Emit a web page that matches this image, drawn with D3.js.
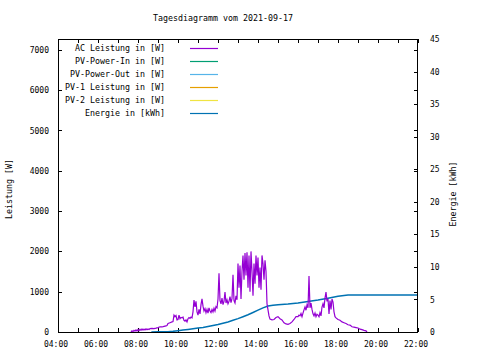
<!DOCTYPE html>
<html><head><meta charset="utf-8">
<script src="https://cdn.jsdelivr.net/npm/d3@7"></script>
<style>
html,body{margin:0;padding:0;background:#fff;}
svg{display:block;}
text{font-family:"DejaVu Sans Mono",monospace;fill:#000;}
</style></head>
<body><svg id="chart" width="480" height="360"></svg>
<script>
const title = "Tagesdiagramm vom 2021-09-17";
const seriesNames = ["AC Leistung in [W]","PV-Power-In in [W]","PV-Power-Out in [W]","PV-1 Leistung in [W]","PV-2 Leistung in [W]","Energie in [kWh]"];
const seriesColors = ["#9400d3","#009e73","#56b4e9","#e69f00","#f0e442","#0072b2"];
const xTickHours = [4,5,6,7,8,9,10,11,12,13,14,15,16,17,18,19,20,21,22];
const yTicks = [0,1000,2000,3000,4000,5000,6000,7000];
const y2Ticks = [0,5,10,15,20,25,30,35,40,45];

const acTimes = ["07:39","07:42","07:45","07:48","07:51","07:54","07:57","08:00","08:03","08:06","08:09","08:12","08:15","08:18","08:21","08:24","08:27","08:30","08:33","08:36","08:42","08:48","08:54","09:00","09:06","09:12","09:18","09:24","09:27","09:30","09:36","09:42","09:45","09:48","09:51","09:54","09:57","10:00","10:03","10:06","10:09","10:12","10:15","10:18","10:21","10:24","10:27","10:30","10:33","10:36","10:39","10:42","10:45",
"10:48","10:51","10:54","10:57","11:00","11:03","11:06","11:09","11:12","11:15","11:18","11:21","11:24","11:27","11:30","11:33","11:36","11:39","11:42","11:45","11:48","11:51","11:54","11:57","12:00","12:03","12:06","12:09","12:12","12:15","12:18","12:21","12:24","12:27","12:30","12:33","12:36","12:39","12:42","12:45","12:48","12:51","12:54","12:57",
"13:00","13:03","13:06","13:09","13:12","13:15","13:18","13:21","13:24","13:27","13:30","13:33","13:36","13:39","13:42","13:45","13:48","13:51","13:54","13:57","14:00","14:03","14:06","14:09","14:12","14:15","14:18","14:21","14:24","14:27","14:30","14:33","14:36","14:42","14:48","14:54","15:00","15:06","15:12","15:18","15:24","15:30","15:36","15:42","15:48","15:54",
"16:00","16:03","16:06","16:09","16:12","16:15","16:18","16:21","16:24","16:27","16:30","16:33","16:36","16:39","16:42","16:45","16:48","16:51","16:54","16:57","17:00","17:03","17:06","17:09","17:12","17:15","17:18","17:21","17:24","17:27","17:30","17:33","17:36","17:39","17:42","17:45","17:48","17:51","17:54","18:00","18:06","18:12","18:18","18:24","18:30","18:36","18:42","18:48","18:54","19:00","19:06","19:12","19:18","19:24","19:27"];
const acValues = [0,30,10,40,20,50,25,60,30,70,40,75,45,70,50,80,55,75,60,85,90,85,95,110,130,125,140,150,160,210,230,250,260,420,380,410,300,310,420,330,360,350,370,290,270,300,250,330,360,340,370,350,500,
790,620,760,500,420,560,450,680,820,640,520,580,480,560,470,600,520,480,560,500,590,520,630,600,820,1460,780,700,840,680,760,990,720,800,700,760,880,730,830,1420,780,720,900,800,
1700,1100,1650,820,1500,1900,1300,1960,1400,1980,1100,1900,1000,2000,1500,900,1700,1200,1900,1400,1850,1100,1600,1050,1900,1700,1300,1780,1500,700,550,400,320,300,310,360,380,330,300,230,200,190,210,250,310,380,
380,420,400,460,380,470,550,620,540,670,600,1390,600,720,560,450,400,470,380,440,420,380,480,400,620,700,600,840,990,760,820,450,780,560,820,740,500,380,350,310,290,250,230,210,180,170,130,120,110,100,70,60,40,30,0];

const pvInTimes = [], pvInValues = [];
const pvOutTimes = [], pvOutValues = [];
const pv1Times = [], pv1Values = [];
const pv2Times = [], pv2Values = [];

const energyTimes = ["08:40","09:00","09:30","09:45","10:00","10:15","10:30","10:45","11:00","11:15","11:30","11:45","12:00","12:15","12:30","12:45","13:00","13:15","13:30","13:45","14:00","14:15","14:30","14:45","15:00","15:30","16:00","16:30","17:00","17:30","18:00","18:30","22:00"];
const energyValues = [0,0.02,0.05,0.1,0.2,0.3,0.4,0.5,0.6,0.7,0.85,1.0,1.15,1.35,1.55,1.8,2.05,2.35,2.65,3.0,3.35,3.7,4.0,4.1,4.2,4.3,4.45,4.7,4.9,5.2,5.5,5.7,5.7];

const toH = s => { const [h,m] = s.split(":").map(Number); return h + m/60; };
const zip = (t,v) => t.map((s,i)=>({h:toH(s), v:v[i]}));

const svg = d3.select("#chart");
const L=58, R=418, T=39, B=332;
const x = d3.scaleLinear().domain([4,22]).range([L,R]);
const y = d3.scaleLinear().domain([0,7270]).range([B,T]);
const y2 = d3.scaleLinear().domain([0,45]).range([B,T]);
const fmtH = h => (h%2===0) ? String(h).padStart(2,"0")+":00" : "";

svg.append("text").attr("x",223).attr("y",21).attr("text-anchor","middle").attr("font-size","8.3px").text(title);

function styleAxis(g){ g.select(".domain").remove(); g.selectAll("line").attr("stroke","#000").attr("shape-rendering","crispEdges"); g.selectAll("text").attr("font-size","8px").attr("fill","#000").style("font-family","DejaVu Sans Mono, monospace"); }

svg.append("g").attr("transform",`translate(0,${B})`)
  .call(d3.axisBottom(x).tickValues(xTickHours).tickFormat(fmtH).tickSize(-4).tickPadding(9))
  .call(styleAxis).selectAll("text").attr("dx","-2.5");
svg.append("g").attr("transform",`translate(0,${T})`)
  .call(d3.axisTop(x).tickValues(xTickHours).tickFormat("").tickSize(-4)).call(styleAxis);
svg.append("g").attr("transform",`translate(${L},0)`)
  .call(d3.axisLeft(y).tickValues(yTicks).tickFormat(d3.format("d")).tickSize(-4).tickPadding(9)).call(styleAxis);
svg.append("g").attr("transform",`translate(${R},0)`)
  .call(d3.axisRight(y).tickValues(yTicks).tickFormat("").tickSize(-4)).call(styleAxis);
svg.append("g").attr("transform",`translate(${R},0)`)
  .call(d3.axisRight(y2).tickValues(y2Ticks).tickFormat(d3.format("d")).tickSize(-4).tickPadding(12)).call(styleAxis);

svg.append("text").attr("transform","translate(12,189) rotate(-90)").attr("text-anchor","middle").attr("font-size","8.3px").text("Leistung [W]");
svg.append("text").attr("transform","translate(456,194) rotate(-90)").attr("text-anchor","middle").attr("font-size","8.3px").text("Energie [kWh]");

svg.append("clipPath").attr("id","pc").append("rect").attr("x",L).attr("y",T).attr("width",R-L).attr("height",B-T);
const plot = svg.append("g").attr("clip-path","url(#pc)");

const lineW = d3.line().x(d=>x(d.h)).y(d=>y(d.v));
const lineE = d3.line().x(d=>x(d.h)).y(d=>y2(d.v));

[[pvInTimes,pvInValues,1],[pvOutTimes,pvOutValues,2],[pv1Times,pv1Values,3],[pv2Times,pv2Values,4]].forEach(([t,v,i])=>{
  if(t.length) plot.append("path").attr("d",lineW(zip(t,v))).attr("fill","none").attr("stroke",seriesColors[i]).attr("stroke-width",1.2);
});
plot.append("path").attr("d",lineE(zip(energyTimes,energyValues))).attr("fill","none").attr("stroke",seriesColors[5]).attr("stroke-width",1.5);
plot.append("path").attr("d",lineW(zip(acTimes,acValues))).attr("fill","none").attr("stroke",seriesColors[0]).attr("stroke-width",1.2).attr("stroke-linejoin","miter");

svg.append("rect").attr("x",L+0.5).attr("y",T+0.5).attr("width",R-L-1).attr("height",B-T).attr("fill","none").attr("stroke","#000").attr("stroke-width",1).attr("shape-rendering","crispEdges");

const leg = svg.append("g");
seriesNames.forEach((n,i)=>{
  const yy = 48 + i*13;
  leg.append("text").attr("x",165).attr("y",yy+3).attr("text-anchor","end").attr("font-size","8.3px").text(n);
  leg.append("line").attr("x1",190).attr("x2",218).attr("y1",yy+0.5).attr("y2",yy+0.5).attr("stroke",seriesColors[i]).attr("stroke-width",1.2);
});
</script></body></html>
